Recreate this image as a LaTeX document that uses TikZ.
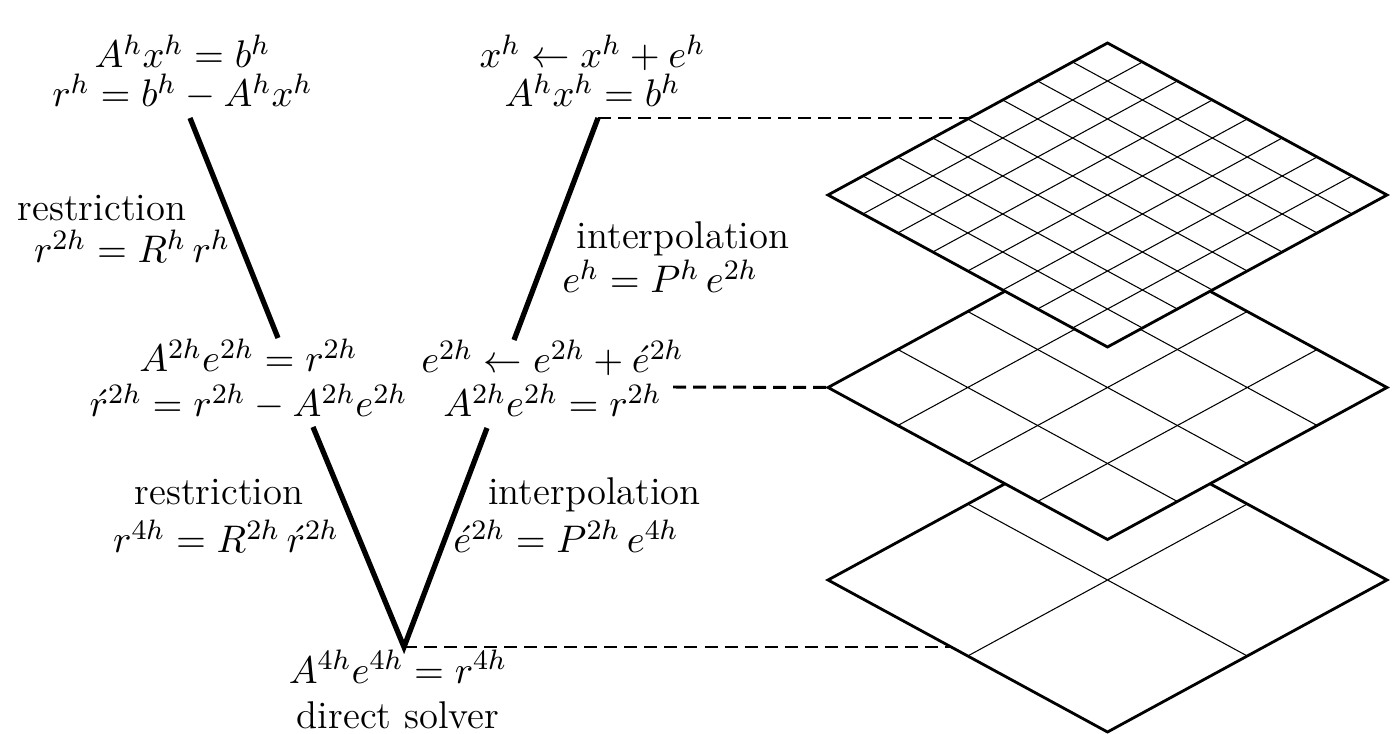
\documentclass[tikz,border=0pt]{standalone}
\usepackage{amsmath}
\usetikzlibrary{positioning}

\begin{document}
\begin{tikzpicture}[
    font=\fontsize{11}{13}\selectfont,
    every node/.style={inner sep=0pt},
    eq/.style={anchor=base},
    vline/.style={line width=1.5pt},
    level/.style={line width=0.85pt, dash pattern=on 3.7pt off 2pt},
    layer/.style={line width=0.8pt},
    cell/.style={line width=0.3pt}
  ]

  \useasboundingbox (0,0) rectangle (13.94,7.33);

  % ===================== grids (coarse to fine) =====================
  \foreach \cy/\cells in {1.53/2, 3.455/4, 5.38/8} {
    \pgfmathtruncatemacro\inner{\cells-1}
    \begin{scope}[shift={(8.28,\cy)}, cm={2.795,1.52,2.795,-1.52,(0,0)}]
      \fill[white] (0,0) rectangle (1,1);
      \foreach \i in {1,...,\inner}
        \draw[cell] (\i/\cells,0) -- (\i/\cells,1) (0,\i/\cells) -- (1,\i/\cells);
      \draw[layer] (0,0) rectangle (1,1);
    \end{scope}
  }

  % ===================== V-cycle corners =====================
  \coordinate (fine-down) at (1.90,6.15);
  \coordinate (mid-in)    at (2.78,3.95);
  \coordinate (mid-down)  at (3.13,3.06);
  \coordinate (coarse)    at (4.04,0.86);
  \coordinate (mid-up)    at (4.87,3.05);
  \coordinate (mid-out)   at (5.14,3.93);
  \coordinate (fine-up)   at (5.98,6.15);

  % grid hits of the dashed levels
  \coordinate (fine-hit)   at (9.70,6.15);
  \coordinate (mid-hit)    at (8.28,3.455);
  \coordinate (mid-start)  at (6.73,3.46);
  \coordinate (coarse-hit) at (9.51,0.86);

  % ===================== equations =====================
  \node[eq] (fineeq) at (1.825,6.65) {$A^hx^h = b^h$};
  \node[eq] (fineres) at ([yshift=-3.9mm]fineeq.base) {$r^h = b^h - A^hx^h$};

  \node[eq] (finecor) at (5.925,6.65) {$x^h \leftarrow x^h + e^h$};
  \node[eq] (finesol) at ([yshift=-3.9mm]finecor.base) {$A^hx^h = b^h$};

  \node[eq] (mideq) at (2.485,3.61) {$A^{2h}e^{2h} = r^{2h}$};
  \node[eq] (midres) at ([yshift=-4.5mm]mideq.base) {$\acute{r}^{2h} = r^{2h} - A^{2h}e^{2h}$};

  \node[eq] (midcor) at (5.525,3.60) {$e^{2h} \leftarrow e^{2h} + \acute{e}^{2h}$};
  \node[eq] (midsol) at ([yshift=-4.4mm]midcor.base) {$A^{2h}e^{2h} = r^{2h}$};

  \node[eq] (coarseeq) at (3.98,0.50) {$A^{4h}e^{4h} = r^{4h}$};
  \node[eq] (coarsesol) at ([yshift=-4.5mm]coarseeq.base) {direct solver};

  % ===================== transfer labels =====================
  \node[eq] (restr1) at (1.02,5.12) {restriction};
  \node[eq] (restr1eq) at (1.32,4.70) {$r^{2h} = R^h\,r^h$};
  \node[eq] (interp1) at (6.83,4.84) {interpolation};
  \node[eq] (interp1eq) at (6.60,4.40) {$e^h = P^h\,e^{2h}$};

  \node[eq] (restr2) at (2.19,2.28) {restriction};
  \node[eq] (restr2eq) at (2.26,1.80) {$r^{4h} = R^{2h}\,\acute{r}^{2h}$};
  \node[eq] (interp2) at (5.945,2.28) {interpolation};
  \node[eq] (interp2eq) at (5.66,1.80) {$\acute{e}^{2h} = P^{2h}\,e^{4h}$};

  % ===================== V-cycle =====================
  \draw[vline] (fine-down) -- (mid-in);
  \draw[vline] (mid-down) -- (coarse) -- (mid-up);
  \draw[vline] (mid-out) -- (fine-up);

  % ===================== level links =====================
  \draw[level] (fine-up) -- (fine-hit);
  \draw[level] (mid-start) -- (mid-hit);
  \draw[level] (coarse) -- (coarse-hit);

\end{tikzpicture}
\end{document}
